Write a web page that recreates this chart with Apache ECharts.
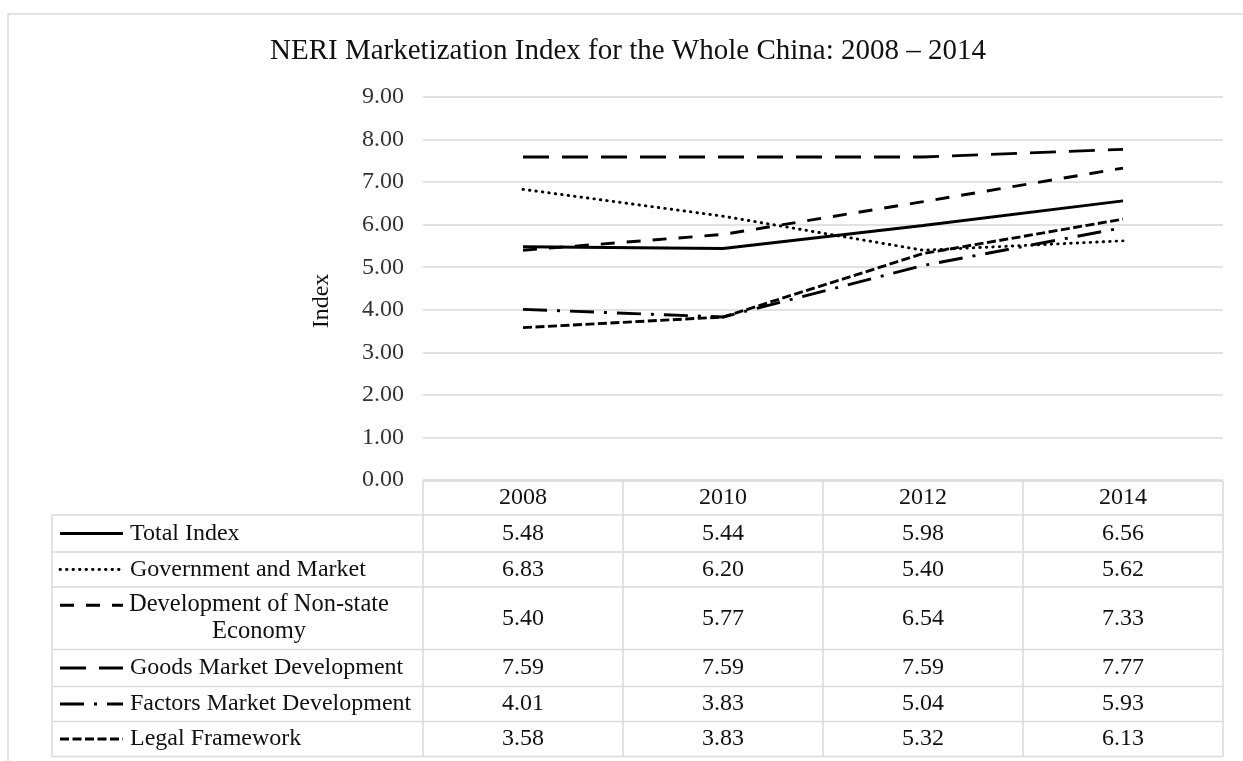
<!DOCTYPE html>
<html>
<head>
<meta charset="utf-8">
<script src="https://cdn.jsdelivr.net/npm/echarts@6/dist/echarts.min.js"></script>
<style>
  html, body { margin: 0; padding: 0; background: #fff; }
  #main { width: 1243px; height: 761px; }
</style>
</head>
<body>
<div id="main"></div>
<script>
// data
const years = ['2008', '2010', '2012', '2014']
const seriesNames = [
  'Total Index',
  'Government and Market',
  'Development of Non-state Economy',
  'Goods Market Development',
  'Factors Market Development',
  'Legal Framework'
]
const totalIndex = [5.48, 5.44, 5.98, 6.56]
const govMarket = [6.83, 6.20, 5.40, 5.62]
const nonStateEconomy = [5.40, 5.77, 6.54, 7.33]
const goodsMarket = [7.59, 7.59, 7.59, 7.77]
const factorsMarket = [4.01, 3.83, 5.04, 5.93]
const legalFramework = [3.58, 3.83, 5.32, 6.13]
const seriesValues = [totalIndex, govMarket, nonStateEconomy, goodsMarket, factorsMarket, legalFramework]

// line looks (Excel dash types)
const dashes = ['solid', [0.5, 6], [14, 12], [26, 13], [24, 10, 3, 10], [9, 3.5]]
const caps = ['butt', 'round', 'butt', 'butt', 'butt', 'butt']

const FONT = 'Liberation Serif'
const GRID_COLOR = '#d9d9d9'

var myChart = echarts.init(document.getElementById('main'))

var option = {
  animation: false,
  grid: { left: 423, right: 20, top: 97, bottom: 281 },
  xAxis: {
    type: 'category',
    data: years,
    boundaryGap: true,
    axisLine: { show: false },
    axisTick: { show: false },
    axisLabel: { show: false }
  },
  yAxis: {
    type: 'value',
    min: 0,
    max: 9,
    interval: 1,
    axisLine: { show: false },
    axisTick: { show: false },
    axisLabel: {
      formatter: v => v.toFixed(2),
      fontFamily: FONT,
      fontSize: 24,
      color: '#333',
      margin: 19
    },
    splitLine: { lineStyle: { color: GRID_COLOR, width: 1.5 } }
  },
  series: seriesNames.map((name, i) => ({
    name: name,
    type: 'line',
    data: seriesValues[i],
    symbol: 'none',
    lineStyle: { color: '#000', width: 2.9, type: dashes[i], cap: caps[i] }
  }))
}
myChart.setOption(option)

// title, axis name and data table drawn as graphics, placed from the axes
function buildGraphics () {
  const g = []
  const px = i => myChart.convertToPixel({ xAxisIndex: 0 }, years[i])
  const band = px(1) - px(0)
  const tableTop = myChart.convertToPixel({ yAxisIndex: 0 }, 0) + 1
  const colLeft = px(0) - band / 2
  const colRight = px(years.length - 1) + band / 2
  const tableLeft = 52
  const rowHeights = [34, 37, 35, 62.5, 37, 35, 35]
  const lineStyle = { stroke: GRID_COLOR, lineWidth: 1.5 }

  // outer frame
  g.push({ type: 'rect', shape: { x: 8, y: 14, width: 1400, height: 900 },
    style: { fill: 'none', stroke: GRID_COLOR, lineWidth: 1.5 }, silent: true })

  g.push({ type: 'text', x: 628, y: 51,
    style: { text: 'NERI Marketization Index for the Whole China: 2008 \u2013 2014',
      font: '29px ' + FONT, fill: '#111', align: 'center', verticalAlign: 'middle' } })

  g.push({ type: 'text', x: 322, y: 301, rotation: Math.PI / 2,
    style: { text: 'Index', font: '24px ' + FONT, fill: '#111', align: 'center', verticalAlign: 'middle' } })

  // row boundaries
  const ys = [tableTop]
  rowHeights.forEach(h => ys.push(ys[ys.length - 1] + h))

  ys.forEach((y, k) => {
    g.push({ type: 'line', shape: { x1: k === 0 ? colLeft : tableLeft, y1: y, x2: colRight, y2: y }, style: lineStyle })
  })
  g.push({ type: 'line', shape: { x1: tableLeft, y1: ys[1], x2: tableLeft, y2: ys[ys.length - 1] }, style: lineStyle })
  for (let c = 0; c <= years.length; c++) {
    const x = colLeft + c * band
    g.push({ type: 'line', shape: { x1: x, y1: ys[0], x2: x, y2: ys[ys.length - 1] }, style: lineStyle })
  }

  // header years
  years.forEach((yr, c) => {
    g.push({ type: 'text', x: px(c), y: (ys[0] + ys[1]) / 2,
      style: { text: yr, font: '24px ' + FONT, fill: '#111', align: 'center', verticalAlign: 'middle' } })
  })

  // series rows
  seriesNames.forEach((name, r) => {
    const yTop = ys[r + 1]
    const yBot = ys[r + 2]
    const yMid = (yTop + yBot) / 2
    const twoLine = name.length > 28
    const sampleY = twoLine ? yMid - 13 : yMid
    const dash = dashes[r]
    g.push({ type: 'line', shape: { x1: 60, y1: sampleY, x2: 123, y2: sampleY },
      style: { stroke: '#000', lineWidth: 2.9, lineDash: dash === 'solid' ? null : dash, lineCap: caps[r] } })
    if (twoLine) {
      g.push({ type: 'text', x: 259, y: yMid,
        style: { text: 'Development of Non-state\nEconomy', font: '24.5px ' + FONT, lineHeight: 27,
          fill: '#111', align: 'center', verticalAlign: 'middle' } })
    } else {
      g.push({ type: 'text', x: 130, y: yMid,
        style: { text: name, font: '24px ' + FONT, fill: '#111', align: 'left', verticalAlign: 'middle' } })
    }
    seriesValues[r].forEach((v, c) => {
      g.push({ type: 'text', x: px(c), y: yMid,
        style: { text: v.toFixed(2), font: '24px ' + FONT, fill: '#111', align: 'center', verticalAlign: 'middle' } })
    })
  })
  return g
}

myChart.setOption({ graphic: buildGraphics() })

window.addEventListener('resize', () => {
  myChart.resize()
  myChart.setOption({ graphic: buildGraphics() }, { replaceMerge: ['graphic'] })
})
</script>
</body>
</html>
